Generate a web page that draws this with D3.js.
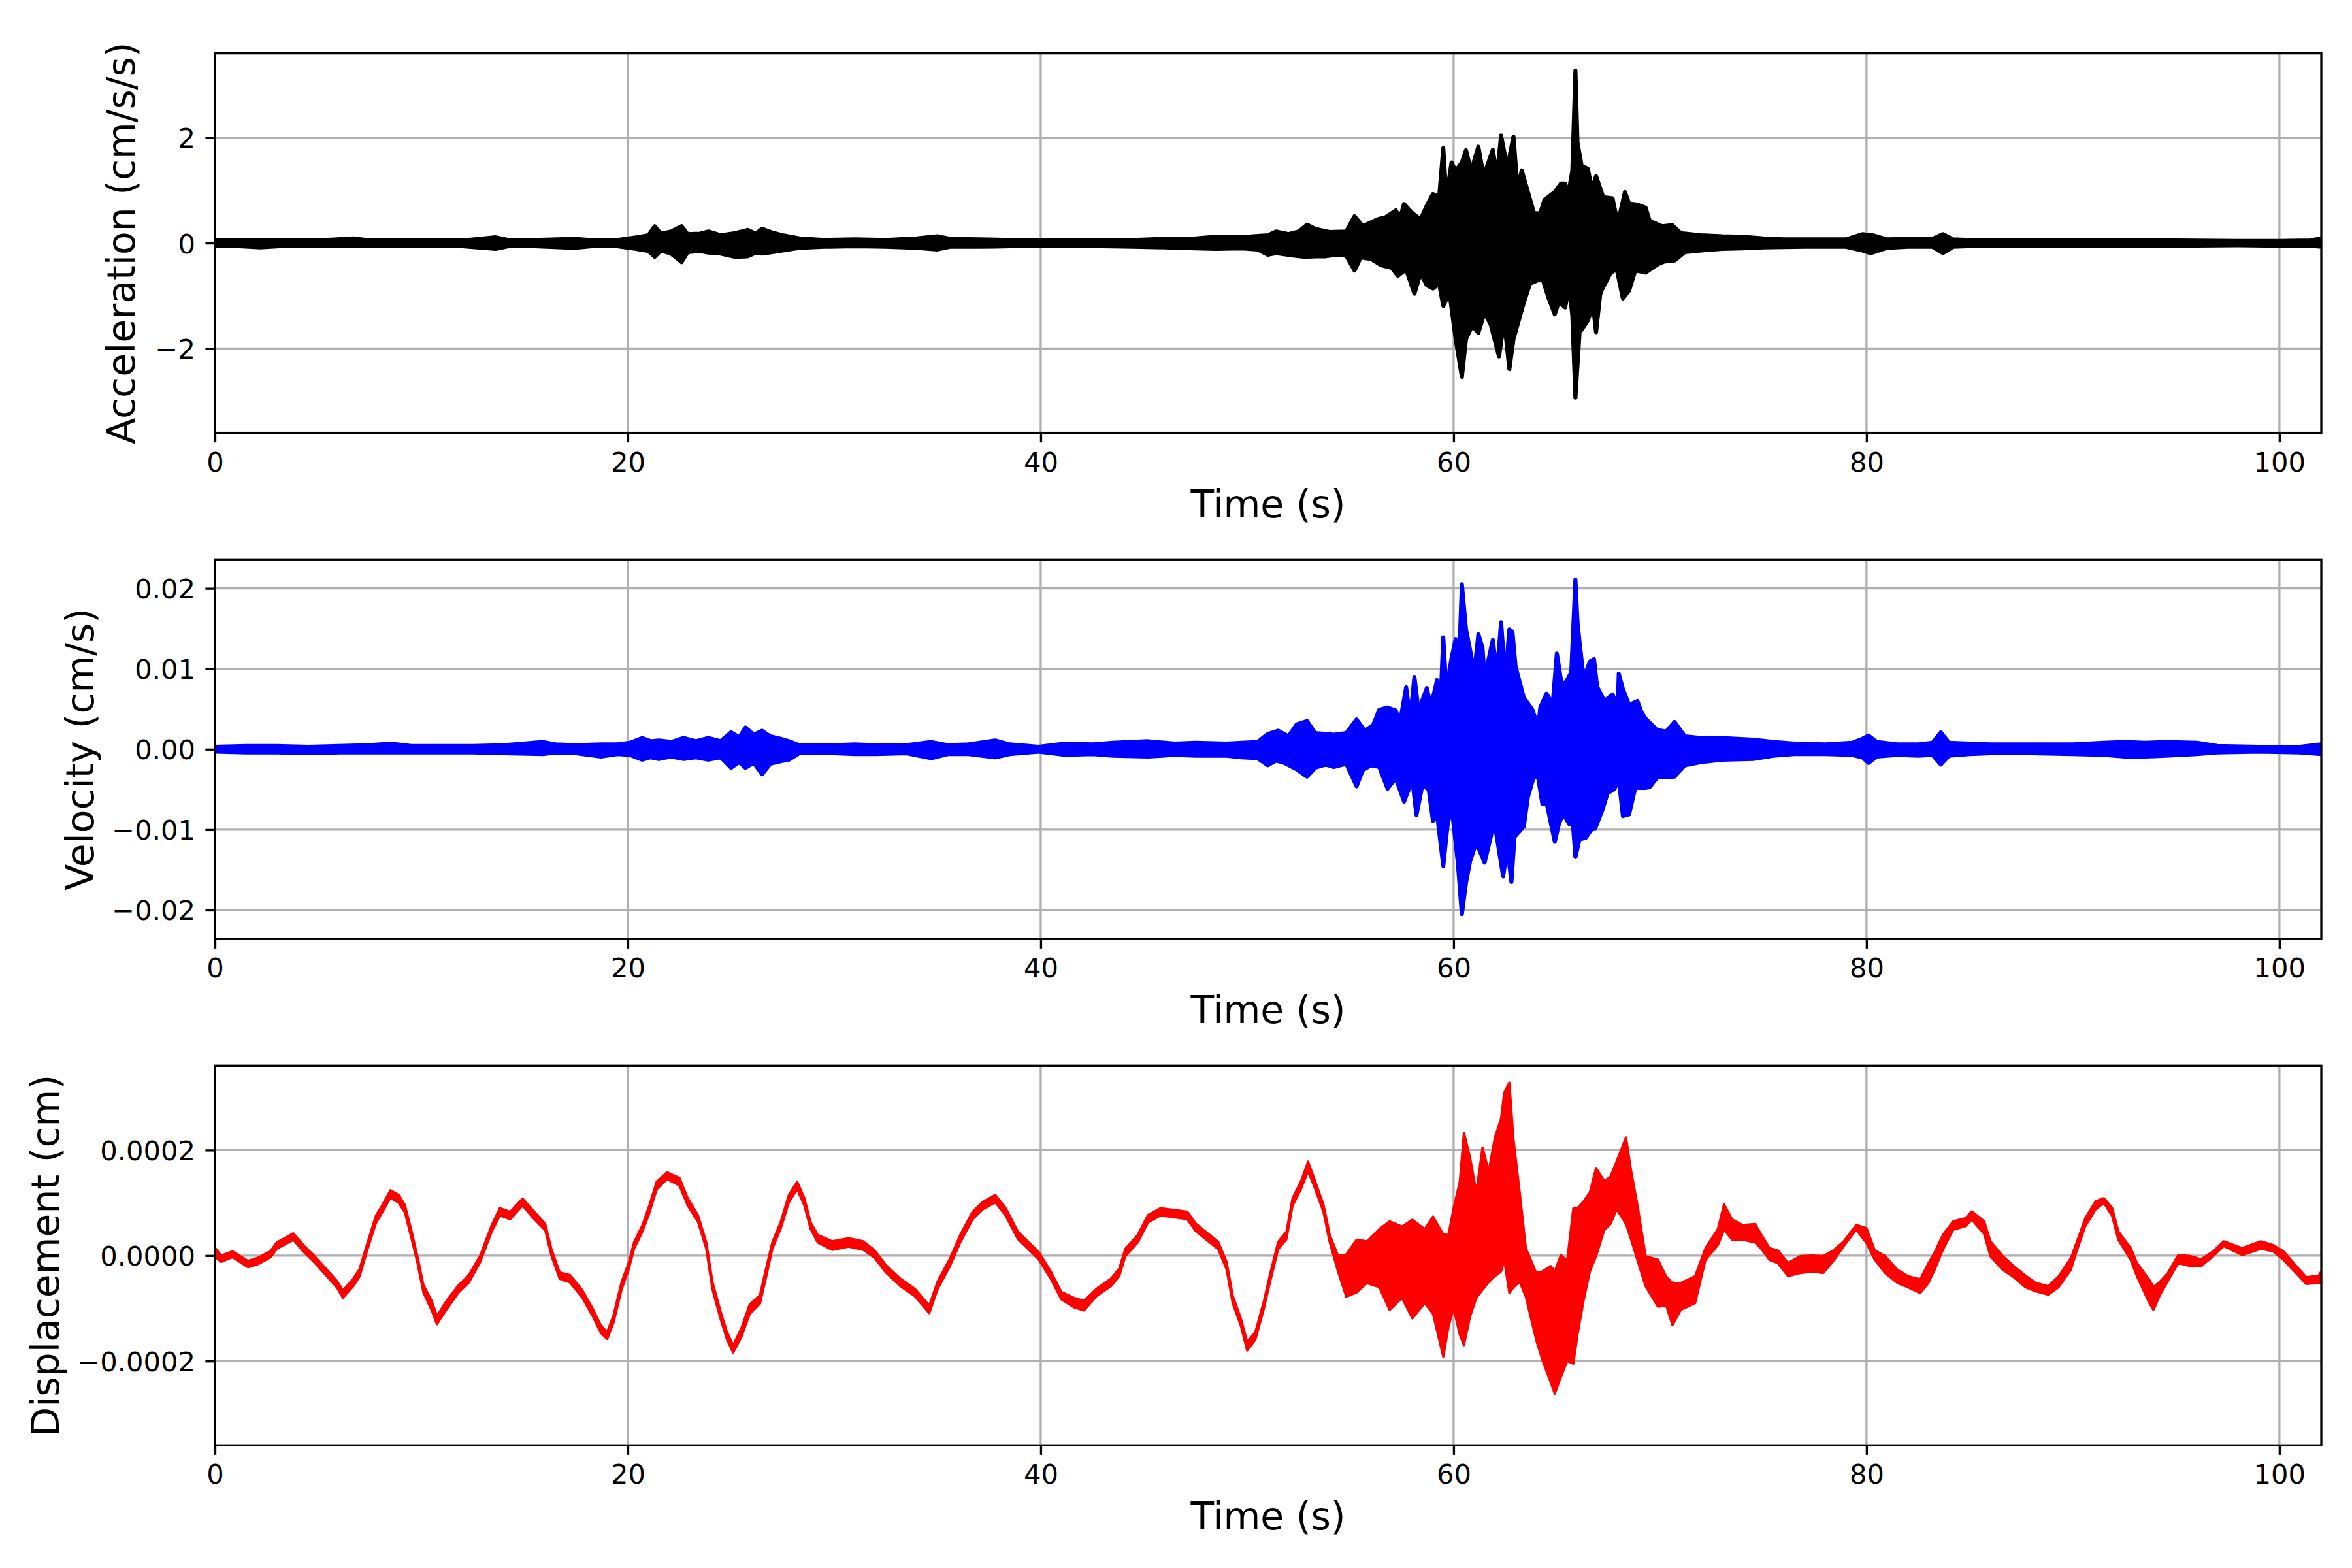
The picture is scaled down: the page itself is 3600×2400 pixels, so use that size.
<!DOCTYPE html>
<html>
<head>
<meta charset="utf-8">
<script src="https://cdnjs.cloudflare.com/ajax/libs/d3/7.8.5/d3.min.js"></script>
<style>
  body { margin: 0; background: #fff; }
  text { font-family: "DejaVu Sans", sans-serif; }
</style>
</head>
<body>
<script>
// envelope of each trace: [time (s), value]
var accUpper = [[0,0.05],[1.2,0.06],[2.2,0.05],[3.5,0.06],[5,0.05],[6.7,0.09],[7.5,0.05],[9,0.05],[10.5,0.06],[12,0.05],
  [13.6,0.11],[14.2,0.06],[15.5,0.06],[17.4,0.08],[18.5,0.05],[19.5,0.06],[20.4,0.11],[21.0,0.15],[21.3,0.32],[21.6,0.18],
  [22.1,0.22],[22.6,0.32],[22.9,0.17],[23.5,0.18],[23.9,0.22],[24.5,0.15],[25.2,0.19],[25.8,0.25],[26.2,0.18],[26.5,0.27],
  [27.0,0.2],[27.5,0.15],[28.3,0.09],[29.5,0.06],[31,0.07],[32.5,0.06],[34,0.09],[35,0.13],[35.6,0.08],[37,0.07],
  [38.5,0.06],[40,0.05],[41.5,0.05],[43,0.06],[44.5,0.06],[46,0.08],[47.5,0.09],[48.5,0.12],[49.75,0.11],
  [50.3,0.13],[51.0,0.15],[51.4,0.22],[52.0,0.17],[52.5,0.22],[52.9,0.35],[53.3,0.27],[54.0,0.21],[54.8,0.22],[55.2,0.51],
  [55.6,0.32],[56.3,0.45],[56.7,0.49],[57.2,0.62],[57.4,0.47],[57.6,0.74],[58.0,0.57],[58.4,0.45],[58.7,0.71],[59.0,0.93],
  [59.3,0.87],[59.5,1.8],[59.65,0.87],[59.9,1.53],[60.1,1.37],[60.4,1.53],[60.6,1.76],[60.85,1.37],[61.2,1.83],[61.45,1.27],
  [61.9,1.77],[62.1,1.27],[62.3,2.04],[62.6,1.43],[62.9,2.02],[63.1,1.02],[63.3,1.38],[63.6,0.97],[63.9,0.56],[64.2,0.57],
  [64.4,0.82],[64.9,0.97],[65.2,1.13],[65.4,1.13],[65.55,0.92],[65.75,1.37],[65.9,3.27],[66.0,1.91],[66.2,1.47],[66.5,1.41],
  [66.7,1.02],[66.9,1.27],[67.25,0.87],[67.7,0.85],[67.95,0.37],[68.3,0.97],[68.5,0.75],[68.9,0.73],[69.3,0.67],[69.5,0.42],
  [70.1,0.32],[70.6,0.34],[71.0,0.19],[72,0.15],[73,0.13],[74,0.12],[75,0.09],[76,0.07],[77.5,0.07],[79,0.07],
  [79.8,0.17],[80.3,0.15],[81,0.07],[82,0.08],[83.2,0.08],[83.7,0.17],[84.2,0.07],[85.5,0.05],[88,0.05],[90,0.05],
  [92,0.06],[95,0.05],[98,0.04],[100,0.04],[101.5,0.05],[102.03,0.09]];
var accLower = [[0,-0.05],[1.2,-0.06],[2.2,-0.08],[3.5,-0.05],[5,-0.06],[6.7,-0.06],[7.5,-0.05],[9,-0.05],[10.5,-0.05],[12,-0.06],
  [13.6,-0.11],[14.2,-0.06],[15.5,-0.06],[17.4,-0.09],[18.5,-0.05],[19.5,-0.06],[20.4,-0.11],[21.0,-0.15],[21.3,-0.26],[21.6,-0.14],
  [22.1,-0.2],[22.6,-0.36],[22.9,-0.17],[23.5,-0.15],[23.9,-0.18],[24.5,-0.2],[25.2,-0.26],[25.8,-0.25],[26.2,-0.18],[26.5,-0.2],
  [27.0,-0.17],[27.5,-0.14],[28.3,-0.09],[29.5,-0.07],[31,-0.06],[32.5,-0.07],[34,-0.09],[35,-0.12],[35.6,-0.07],[37,-0.07],
  [38.5,-0.06],[40,-0.05],[41.5,-0.06],[43,-0.06],[44.5,-0.07],[46,-0.08],[47.5,-0.1],[48.5,-0.11],[49.75,-0.1],
  [50.5,-0.12],[51.0,-0.22],[51.4,-0.19],[52.3,-0.24],[52.8,-0.26],[53.3,-0.25],[53.8,-0.25],[54.3,-0.22],[54.8,-0.24],[55.2,-0.52],
  [55.5,-0.27],[56.0,-0.3],[56.5,-0.42],[57.0,-0.47],[57.3,-0.62],[57.7,-0.5],[58.1,-0.96],[58.4,-0.57],[58.7,-0.8],[59.0,-0.86],
  [59.3,-0.77],[59.5,-1.19],[59.8,-0.94],[60.1,-1.82],[60.4,-2.54],[60.6,-1.82],[60.9,-1.57],[61.2,-1.7],[61.5,-1.32],[61.8,-1.55],
  [62.2,-2.15],[62.45,-1.47],[62.7,-2.39],[62.9,-1.82],[63.4,-1.13],[63.7,-0.77],[64.0,-0.72],[64.3,-0.67],[64.6,-1.04],[64.9,-1.35],
  [65.1,-1.11],[65.4,-1.22],[65.6,-0.83],[65.75,-1.37],[65.9,-2.93],[66.1,-1.7],[66.5,-1.47],[66.75,-1.17],[66.9,-1.69],[67.1,-0.97],
  [67.2,-0.87],[67.6,-0.57],[67.9,-0.49],[68.2,-1.05],[68.5,-0.9],[68.8,-0.52],[69.3,-0.56],[69.9,-0.4],[70.2,-0.35],[70.7,-0.33],
  [71.2,-0.17],[72,-0.14],[73,-0.11],[74,-0.1],[75,-0.08],[77,-0.07],[79,-0.07],[79.8,-0.14],[80.2,-0.19],[81,-0.09],
  [82,-0.07],[83.2,-0.07],[83.7,-0.19],[84.2,-0.07],[85.5,-0.05],[88,-0.05],[92,-0.05],[95,-0.05],[98,-0.04],[100,-0.05],
  [101.5,-0.05],[102.03,-0.07]];

var velUpper = [[0,0.0003],[1.5,0.0004],[3,0.0004],[4.5,0.0003],[6,0.0004],[7.5,0.0005],[8.5,0.0007],[9.5,0.0004],[11,0.0004],[12.5,0.0004],
  [14,0.0005],[15.9,0.0009],[16.5,0.0006],[17.5,0.0005],[18.7,0.0006],[19.5,0.0006],[20.1,0.0008],[20.7,0.0014],[21.1,0.001],[21.5,0.0011],
  [22.1,0.0009],[22.7,0.0014],[23.3,0.001],[23.9,0.0014],[24.5,0.001],[25.0,0.0021],[25.4,0.0015],[25.7,0.0027],[26.1,0.0018],[26.5,0.0023],
  [26.9,0.0016],[27.4,0.0013],[27.8,0.001],[28.3,0.0005],[29,0.0005],[30,0.0005],[31,0.0006],[32,0.0005],[33.5,0.0005],[34.7,0.0009],
  [35.5,0.0005],[36.5,0.0006],[37.8,0.0011],[38.5,0.0006],[39.9,0.0003],[41.2,0.0007],[42.5,0.0006],[43.5,0.0008],[45.2,0.001],[46.5,0.0007],
  [47.5,0.0008],[49,0.0007],[49.75,0.0008],[50.5,0.0009],[51.0,0.0019],[51.5,0.0023],[52.0,0.0016],[52.4,0.0031],[52.9,0.0035],[53.3,0.002],
  [53.8,0.0019],[54.2,0.0018],[54.8,0.002],[55.3,0.0037],[55.7,0.0023],[56.1,0.003],[56.4,0.0049],[56.8,0.0052],[57.2,0.0048],[57.4,0.0033],
  [57.7,0.0077],[57.9,0.0038],[58.1,0.009],[58.3,0.0048],[58.7,0.0076],[58.9,0.0053],[59.2,0.0086],[59.35,0.0048],[59.5,0.0139],[59.65,0.0073],
  [59.9,0.0113],[60.1,0.0137],[60.25,0.0098],[60.4,0.0205],[60.6,0.0149],[60.8,0.0123],[61.0,0.0095],[61.2,0.0143],[61.4,0.0126],[61.5,0.0089],
  [61.9,0.0136],[62.1,0.0093],[62.3,0.0158],[62.5,0.0088],[62.7,0.0149],[62.85,0.0146],[63.0,0.0103],[63.4,0.0064],[63.8,0.005],[64.1,0.0028],
  [64.2,0.0052],[64.5,0.0069],[64.8,0.0056],[65.0,0.0119],[65.25,0.0078],[65.5,0.0086],[65.7,0.0096],[65.9,0.0211],[66.0,0.0158],[66.1,0.0133],
  [66.3,0.0088],[66.6,0.0109],[66.8,0.0112],[66.95,0.0078],[67.3,0.006],[67.7,0.0068],[67.95,0.0051],[68.0,0.0094],[68.2,0.0075],[68.5,0.0055],
  [68.9,0.006],[69.1,0.0046],[69.3,0.0038],[69.85,0.0024],[70.3,0.0022],[70.7,0.0034],[71.2,0.0016],[72,0.0014],[73,0.0014],[74.5,0.0012],
  [75.5,0.0009],[76.5,0.0007],[78,0.0006],[79.3,0.0008],[79.8,0.0013],[80.1,0.0017],[80.5,0.0009],[81.5,0.0006],[82.5,0.0006],[83.2,0.0008],
  [83.6,0.0021],[84.0,0.0008],[85,0.0007],[86,0.0006],[88,0.0006],[90,0.0006],[91.5,0.0008],[92.5,0.0009],[93.5,0.0008],[94.5,0.0009],
  [96,0.0008],[97,0.0004],[99,0.0003],[101,0.0003],[102.03,0.0006]];
var velLower = [[0,-0.0003],[1.5,-0.0004],[3,-0.0004],[4.5,-0.0005],[6,-0.0004],[7.5,-0.0004],[8.5,-0.0004],[9.5,-0.0004],[11,-0.0004],[12.5,-0.0004],
  [14,-0.0005],[15.9,-0.0006],[16.5,-0.0004],[17.5,-0.0005],[18.7,-0.0009],[19.5,-0.0006],[20.1,-0.0007],[20.7,-0.0013],[21.1,-0.001],[21.5,-0.0012],
  [22.1,-0.0009],[22.7,-0.0012],[23.3,-0.001],[23.9,-0.0013],[24.5,-0.001],[25.0,-0.0023],[25.4,-0.0016],[25.7,-0.0023],[26.1,-0.0017],[26.5,-0.0031],
  [26.9,-0.0018],[27.4,-0.0015],[27.8,-0.0013],[28.3,-0.0005],[29,-0.0005],[30,-0.0005],[31,-0.0006],[32,-0.0006],[33.5,-0.0005],[34.7,-0.0011],
  [35.5,-0.0006],[36.5,-0.0006],[37.8,-0.001],[38.5,-0.0006],[39.9,-0.0003],[41.2,-0.0007],[42.5,-0.0006],[43.5,-0.0008],[45.2,-0.0009],[46.5,-0.0007],
  [47.5,-0.0008],[49,-0.0008],[49.75,-0.001],[50.5,-0.0011],[51.0,-0.002],[51.4,-0.0014],[51.8,-0.0017],[52.4,-0.0025],[52.9,-0.0034],[53.3,-0.0023],
  [53.8,-0.0019],[54.2,-0.0022],[54.8,-0.0018],[55.3,-0.0046],[55.6,-0.0026],[56.0,-0.002],[56.4,-0.0022],[56.8,-0.0049],[57.2,-0.0036],[57.6,-0.0065],
  [58.0,-0.0038],[58.2,-0.0082],[58.5,-0.0043],[58.8,-0.0051],[59.0,-0.0089],[59.2,-0.0081],[59.5,-0.0145],[59.7,-0.0096],[59.9,-0.007],[60.2,-0.014],
  [60.4,-0.0205],[60.6,-0.0166],[60.8,-0.0139],[61.1,-0.0116],[61.5,-0.0141],[61.8,-0.0109],[61.95,-0.0086],[62.4,-0.0158],[62.6,-0.0122],[62.8,-0.0165],
  [62.95,-0.0109],[63.4,-0.0096],[63.6,-0.0059],[63.9,-0.0033],[64.1,-0.0036],[64.3,-0.0068],[64.5,-0.0066],[64.9,-0.0115],[65.1,-0.0093],[65.3,-0.008],
  [65.6,-0.0093],[65.75,-0.0083],[65.9,-0.0134],[66.1,-0.0112],[66.4,-0.011],[66.7,-0.0099],[66.85,-0.0099],[67.2,-0.0076],[67.45,-0.0055],[67.8,-0.0049],
  [68.0,-0.0037],[68.2,-0.0083],[68.5,-0.0081],[68.8,-0.0048],[69.3,-0.0048],[69.5,-0.0047],[69.9,-0.0034],[70.2,-0.0035],[70.7,-0.0034],[71.2,-0.002],
  [72,-0.0016],[73,-0.0013],[74.5,-0.0012],[75.5,-0.0008],[76.5,-0.0006],[78,-0.0006],[79.3,-0.0007],[79.8,-0.001],[80.1,-0.0017],[80.5,-0.0009],
  [81.5,-0.0007],[82.5,-0.0008],[83.2,-0.0007],[83.6,-0.0019],[84.0,-0.0008],[85,-0.0006],[86,-0.0005],[88,-0.0005],[90,-0.0006],[91.5,-0.0007],
  [92.5,-0.0009],[93.5,-0.0009],[94.5,-0.0008],[96,-0.0006],[97,-0.0004],[99,-0.0003],[101,-0.0004],[102.03,-0.0006]];

// displacement band, values in units of 1e-4 cm
var dispTime = [0,0.3,0.85,1.6,2.1,2.7,3.0,3.8,4.3,4.8,5.4,5.9,6.2,6.7,7.0,7.4,7.8,8.1,8.5,8.9,
  9.2,9.5,9.8,10.1,10.5,10.75,11.2,11.8,12.3,12.85,13.4,13.8,14.3,14.9,15.4,16.0,16.3,16.7,17.2,17.8,
  18.3,18.7,19.0,19.3,19.7,20.05,20.3,20.7,21.0,21.4,21.9,22.5,22.9,23.4,23.8,24.1,24.5,24.8,25.1,25.5,
  25.9,26.4,26.7,27.0,27.4,27.8,28.2,28.55,28.85,29.2,29.9,30.7,31.4,31.95,32.5,33.2,33.9,34.6,35.0,35.6,
  36.1,36.7,37.2,37.8,38.3,38.9,39.4,39.9,40.5,41.0,41.6,42.1,42.7,43.4,43.8,44.1,44.7,45.2,45.8,46.6,
  47.1,47.5,48.0,48.6,49.0,49.3,49.7,50.0,50.4,50.8,51.1,51.5,51.9,52.2,52.6,52.95,53.3,53.7,54.0,54.4,
  54.8,55.3,55.8,56.4,56.9,57.5,58.0,58.6,59.0,59.5,59.75,60.0,60.3,60.5,60.8,61.1,61.4,61.7,62.0,62.3,
  62.45,62.7,62.9,63.2,63.5,64.0,64.3,64.7,64.9,65.2,65.5,65.8,66.0,66.3,66.6,66.9,67.3,67.6,67.9,68.35,
  68.6,68.9,69.3,69.9,70.3,70.6,71.0,71.7,72.2,72.8,73.1,73.5,74.0,74.6,74.9,75.3,75.7,76.2,76.8,77.4,
  77.9,78.4,78.9,79.5,80.0,80.4,80.9,81.5,82.0,82.6,83.0,83.3,83.7,84.2,84.8,85.1,85.7,86.0,86.6,87.1,
  87.7,88.2,88.8,89.3,89.9,90.2,90.6,91.1,91.5,91.9,92.2,92.8,93.1,93.7,93.9,94.2,94.6,95.1,95.7,96.2,
  96.8,97.3,98.2,99.1,99.7,100.2,100.8,101.3,101.9,102.03];
var dispHigh = [0.15,0.0,0.08,-0.1,-0.04,0.09,0.25,0.42,0.19,0.0,-0.26,-0.48,-0.66,-0.44,-0.26,0.25,0.76,0.95,1.24,1.15,
  0.96,0.5,0.0,-0.56,-0.86,-1.15,-0.87,-0.56,-0.37,0.0,0.57,0.9,0.83,1.08,0.86,0.6,0.12,-0.32,-0.37,-0.66,
  -1.01,-1.33,-1.45,-1.14,-0.5,-0.13,0.25,0.57,0.9,1.4,1.58,1.47,1.09,0.76,0.25,-0.5,-1.07,-1.45,-1.7,-1.38,
  -0.93,-0.75,-0.24,0.25,0.63,1.15,1.4,1.09,0.63,0.39,0.27,0.33,0.27,0.1,-0.18,-0.44,-0.63,-0.95,-0.5,-0.06,
  0.39,0.83,1.02,1.15,0.9,0.45,0.26,0.07,-0.31,-0.69,-0.8,-0.86,-0.63,-0.44,-0.25,0.13,0.39,0.77,0.9,0.86,
  0.83,0.61,0.45,0.26,-0.12,-0.76,-1.2,-1.64,-1.45,-0.88,-0.37,0.26,0.45,1.09,1.4,1.78,1.4,0.96,0.39,0.0,
  0.02,0.3,0.27,0.5,0.65,0.55,0.68,0.5,0.74,0.4,0.39,0.9,1.4,2.33,1.85,1.2,2.05,1.6,2.24,2.6,
  3.09,3.28,2.2,1.2,0.14,-0.33,-0.3,-0.2,-0.3,0.01,-0.1,0.9,0.9,1.03,1.2,1.66,1.41,1.5,1.79,2.24,
  1.6,0.97,-0.01,-0.08,-0.4,-0.52,-0.52,-0.39,0.14,0.5,0.97,0.68,0.58,0.6,0.4,0.14,0.1,-0.14,-0.01,0.0,
  -0.01,0.1,0.27,0.58,0.52,0.1,-0.01,-0.27,-0.39,-0.45,-0.15,0.06,0.39,0.65,0.71,0.84,0.65,0.27,-0.01,-0.19,
  -0.38,-0.52,-0.58,-0.4,-0.05,0.27,0.71,1.03,1.09,0.9,0.46,0.14,-0.14,-0.46,-0.6,-0.5,-0.33,0.01,-0.01,-0.07,
  0.08,0.27,0.14,0.27,0.2,0.08,-0.19,-0.41,-0.38,-0.3];
var dispLow = [-0.02,-0.12,-0.03,-0.22,-0.16,-0.03,0.13,0.3,0.07,-0.12,-0.38,-0.6,-0.8,-0.58,-0.4,0.13,0.62,0.82,1.1,1.0,
  0.82,0.36,-0.12,-0.7,-1.04,-1.3,-1.03,-0.7,-0.51,-0.12,0.45,0.76,0.69,0.95,0.72,0.48,0.0,-0.44,-0.51,-0.8,
  -1.15,-1.47,-1.58,-1.28,-0.64,-0.25,0.13,0.45,0.76,1.26,1.45,1.33,0.95,0.64,0.13,-0.64,-1.21,-1.59,-1.84,-1.54,
  -1.11,-0.91,-0.4,0.13,0.51,1.01,1.26,0.95,0.51,0.25,0.11,0.17,0.11,-0.04,-0.32,-0.58,-0.77,-1.09,-0.64,-0.2,
  0.25,0.69,0.88,1.01,0.76,0.31,0.12,-0.07,-0.45,-0.83,-0.98,-1.04,-0.77,-0.58,-0.39,-0.01,0.25,0.63,0.76,0.72,
  0.69,0.47,0.31,0.12,-0.26,-0.9,-1.34,-1.8,-1.59,-1.02,-0.51,0.12,0.31,0.95,1.26,1.6,1.26,0.82,0.25,-0.3,
  -0.78,-0.7,-0.52,-0.6,-1.03,-0.8,-1.19,-0.9,-1.1,-1.92,-1.35,-1.0,-1.5,-1.7,-1.15,-0.8,-0.65,-0.5,-0.39,-0.3,
  -0.08,-0.71,-0.6,-0.5,-0.78,-1.6,-1.98,-2.4,-2.62,-2.3,-2.0,-2.05,-1.5,-0.84,-0.3,-0.01,0.49,0.6,0.88,0.6,
  0.3,-0.08,-0.58,-0.97,-0.95,-1.32,-1.03,-0.9,-0.08,0.2,0.49,0.3,0.3,0.25,0.13,-0.08,-0.14,-0.39,-0.33,-0.3,
  -0.33,-0.1,0.18,0.49,0.24,-0.08,-0.33,-0.52,-0.6,-0.71,-0.52,-0.27,0.11,0.49,0.56,0.68,0.41,-0.01,-0.27,-0.4,
  -0.6,-0.68,-0.74,-0.6,-0.27,0.11,0.56,0.88,1.0,0.75,0.3,-0.08,-0.39,-0.9,-1.03,-0.76,-0.48,-0.14,-0.2,-0.2,
  -0.01,0.18,0.01,0.13,0.08,-0.08,-0.33,-0.54,-0.52,-0.52];
var dispUnit = 1e-4;

var timeTicks = [0, 20, 40, 60, 80, 100];
var accTicks = [-2, 0, 2];
var velTicks = [-0.02, -0.01, 0, 0.01, 0.02];
var dispTicks = [-0.0002, 0, 0.0002];

var width = 3600, height = 2400;
var dpi = 300 / 72;           // px per point
var lw = 0.8 * dpi;           // spines, ticks, grid
var tickFont = 10 * dpi;
var labelFont = 14 * dpi;

var svg = d3.select("body").append("svg")
    .attr("width", width)
    .attr("height", height);
svg.append("rect").attr("width", width).attr("height", height).attr("fill", "#fff");

var left = 329, right = 3553, panelH = 581;

var x = d3.scaleLinear().domain([0, 102.03]).range([left, right]);

var dispUp = dispTime.map(function(t, i){ return [t, dispHigh[i] * dispUnit]; });
var dispDown = dispTime.map(function(t, i){ return [t, dispLow[i] * dispUnit]; });

var panels = [
  {top: 81.6, lim: 3.6, ticks: accTicks, fmt: d3.format("d"), up: accUpper, down: accLower,
   color: "#000000", width: 1.5 * dpi, label: "Acceleration (cm/s/s)", labelX: 206},
  {top: 856.3, lim: 0.0236, ticks: velTicks, fmt: d3.format(".2f"), up: velUpper, down: velLower,
   color: "#0000ff", width: 1.5 * dpi, label: "Velocity (cm/s)", labelX: 143},
  {top: 1631.3, lim: 0.00036, ticks: dispTicks, fmt: d3.format(".4f"), up: dispUp, down: dispDown,
   color: "#ff0000", width: 3.5, label: "Displacement (cm)", labelX: 90}
];

panels.forEach(function(p, k){
  var bottom = p.top + panelH;
  var y = d3.scaleLinear().domain([-p.lim, p.lim]).range([bottom, p.top]);
  var g = svg.append("g");

  g.append("clipPath").attr("id", "clip" + k)
    .append("rect").attr("x", left).attr("y", p.top)
    .attr("width", right - left).attr("height", panelH);

  // grid
  g.append("g").selectAll("line").data(timeTicks).enter().append("line")
    .attr("x1", function(d){ return x(d); }).attr("x2", function(d){ return x(d); })
    .attr("y1", p.top).attr("y2", bottom)
    .attr("stroke", "#b0b0b0").attr("stroke-width", lw);
  g.append("g").selectAll("line").data(p.ticks).enter().append("line")
    .attr("y1", function(d){ return y(d); }).attr("y2", function(d){ return y(d); })
    .attr("x1", left).attr("x2", right)
    .attr("stroke", "#b0b0b0").attr("stroke-width", lw);

  // trace envelope: upper edge forward, lower edge back
  var pts = p.up.concat(p.down.slice().reverse());
  var outline = d3.line()
      .x(function(d){ return x(d[0]); })
      .y(function(d){ return y(d[1]); })
      .curve(d3.curveLinearClosed);
  g.append("path")
    .attr("clip-path", "url(#clip" + k + ")")
    .attr("d", outline(pts))
    .attr("fill", p.color)
    .attr("stroke", p.color)
    .attr("stroke-width", p.width)
    .attr("stroke-linejoin", "round");

  // spines
  g.append("rect").attr("x", left).attr("y", p.top)
    .attr("width", right - left).attr("height", panelH)
    .attr("fill", "none").attr("stroke", "#000").attr("stroke-width", lw);

  var xAxis = d3.axisBottom(x).tickValues(timeTicks).tickFormat(d3.format("d"))
      .tickSize(3.5 * dpi).tickPadding(15);
  var yAxis = d3.axisLeft(y).tickValues(p.ticks).tickFormat(p.fmt)
      .tickSize(3.5 * dpi).tickPadding(15.5);

  var xg = g.append("g").attr("transform", "translate(0," + bottom + ")").call(xAxis);
  var yg = g.append("g").attr("transform", "translate(" + left + ",0)").call(yAxis);
  [xg, yg].forEach(function(a){
    a.select(".domain").remove();
    a.selectAll(".tick line").attr("stroke", "#000").attr("stroke-width", lw);
    a.selectAll(".tick text").attr("fill", "#000")
      .style("font-family", "'DejaVu Sans', sans-serif")
      .style("font-size", tickFont + "px");
  });
  yg.selectAll(".tick text").attr("dy", "0.36em");

  g.append("text")
    .attr("x", (left + right) / 2).attr("y", bottom + 129)
    .attr("text-anchor", "middle")
    .style("font-size", labelFont + "px")
    .text("Time (s)");

  g.append("text")
    .attr("transform", "translate(" + p.labelX + "," + (p.top + panelH / 2) + ") rotate(-90)")
    .attr("text-anchor", "middle")
    .style("font-size", labelFont + "px")
    .text(p.label);
});
</script>
</body>
</html>
